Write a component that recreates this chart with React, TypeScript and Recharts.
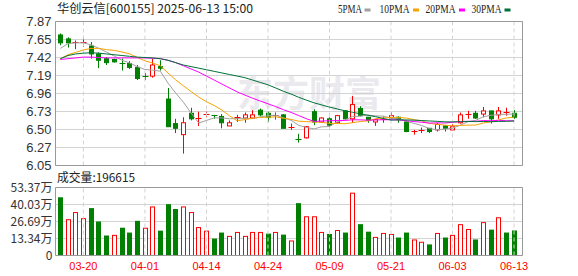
import {
  ComposedChart,
  Bar,
  Line,
  XAxis,
  YAxis,
  CartesianGrid,
  ReferenceLine,
} from "recharts";

const dates = [
  "03-17", "03-18", "03-19", "03-20", "03-21", "03-24", "03-25", "03-26", "03-27", "03-28", "03-31",
  "04-01", "04-02", "04-03", "04-07", "04-08", "04-09", "04-10", "04-11", "04-14", "04-15", "04-16",
  "04-17", "04-18", "04-21", "04-22", "04-23", "04-24", "04-25", "04-28", "04-29", "04-30",
  "05-06", "05-07", "05-08", "05-09", "05-12", "05-13", "05-14", "05-15", "05-16", "05-19", "05-20",
  "05-21", "05-22", "05-23", "05-26", "05-27", "05-28", "05-29", "05-30",
  "06-03", "06-04", "06-05", "06-06", "06-09", "06-10", "06-11", "06-12", "06-13",
];

const opens = [
  7.70, 7.65, 7.60, 7.60, 7.56, 7.46, 7.40, 7.39, 7.35, 7.34,
  7.29, 7.18, 7.18, 7.30, 6.89, 6.58, 6.44, 6.71, 6.64, 6.69,
  6.69, 6.67, 6.55, 6.65, 6.65, 6.65, 6.75, 6.71, 6.68, 6.69,
  6.53, 6.38, 6.40, 6.73, 6.60, 6.64, 6.59, 6.74, 6.64, 6.77,
  6.66, 6.60, 6.63, 6.65, 6.66, 6.60, 6.48, 6.49, 6.52, 6.50,
  6.55, 6.50, 6.59, 6.69, 6.71, 6.70, 6.74, 6.69, 6.71, 6.71,
];
const highs = [
  7.72, 7.67, 7.63, 7.67, 7.61, 7.48, 7.42, 7.40, 7.40, 7.37,
  7.32, 7.22, 7.40, 7.38, 7.03, 6.64, 6.66, 6.78, 6.73, 6.73,
  6.69, 6.70, 6.62, 6.69, 6.72, 6.75, 6.77, 6.73, 6.72, 6.70,
  6.58, 6.45, 6.55, 6.76, 6.66, 6.66, 6.69, 6.75, 6.93, 6.80,
  6.66, 6.64, 6.67, 6.72, 6.67, 6.62, 6.50, 6.53, 6.52, 6.59,
  6.56, 6.57, 6.72, 6.74, 6.74, 6.79, 6.74, 6.79, 6.78, 6.75,
];
const lows = [
  7.57, 7.54, 7.52, 7.55, 7.40, 7.28, 7.32, 7.35, 7.25, 7.27,
  7.13, 7.13, 7.16, 7.25, 6.54, 6.46, 6.20, 6.62, 6.55, 6.66,
  6.64, 6.52, 6.55, 6.60, 6.59, 6.64, 6.67, 6.60, 6.63, 6.52,
  6.50, 6.34, 6.39, 6.56, 6.59, 6.54, 6.58, 6.63, 6.59, 6.67,
  6.59, 6.55, 6.59, 6.64, 6.59, 6.47, 6.44, 6.46, 6.46, 6.48,
  6.48, 6.49, 6.58, 6.64, 6.64, 6.66, 6.58, 6.64, 6.68, 6.64,
];
const closes = [
  7.60, 7.60, 7.61, 7.61, 7.46, 7.38, 7.35, 7.36, 7.34, 7.29,
  7.15, 7.17, 7.32, 7.28, 6.54, 6.52, 6.59, 6.64, 6.65, 6.70,
  6.68, 6.59, 6.59, 6.66, 6.69, 6.69, 6.69, 6.66, 6.69, 6.52,
  6.54, 6.37, 6.54, 6.60, 6.65, 6.56, 6.68, 6.64, 6.82, 6.68,
  6.62, 6.63, 6.64, 6.68, 6.63, 6.48, 6.48, 6.50, 6.48, 6.57,
  6.52, 6.54, 6.69, 6.70, 6.65, 6.74, 6.64, 6.74, 6.72, 6.66,
];
const volumes = [
  457000, 285000, 341000, 293000, 372000, 267000, 157000, 162000, 218000, 180000,
  272000, 218000, 385000, 195000, 403000, 365000, 385000, 341000, 223000, 195000,
  133000, 180000, 154000, 185000, 154000, 185000, 185000, 172000, 185000, 164000,
  118000, 411000, 308000, 308000, 185000, 169000, 200000, 180000, 493000, 246000,
  187000, 146000, 177000, 169000, 141000, 180000, 126000, 108000, 87000, 177000,
  141000, 162000, 246000, 208000, 126000, 262000, 203000, 300000, 180000, 196615,
];

const ma5 = [
  7.53, 7.59, 7.60, 7.60, 7.575, 7.532, 7.483, 7.434, 7.381, 7.346,
  7.30, 7.263, 7.256, 7.242, 7.092, 6.966, 6.85, 6.714, 6.587, 6.619,
  6.652, 6.652, 6.641, 6.643, 6.641, 6.643, 6.664, 6.679, 6.686, 6.653,
  6.622, 6.557, 6.531, 6.513, 6.539, 6.542, 6.604, 6.626, 6.669, 6.674,
  6.687, 6.677, 6.675, 6.648, 6.639, 6.611, 6.582, 6.555, 6.516, 6.503,
  6.51, 6.521, 6.559, 6.603, 6.62, 6.665, 6.685, 6.695, 6.698, 6.70,
];
const ma10 = [
  7.40, 7.45, 7.48, 7.51, 7.53, 7.53, 7.515, 7.505, 7.485, 7.461,
  7.416, 7.373, 7.345, 7.311, 7.219, 7.133, 7.057, 6.985, 6.915, 6.856,
  6.809, 6.751, 6.678, 6.615, 6.63, 6.648, 6.658, 6.66, 6.665, 6.647,
  6.633, 6.61, 6.605, 6.60, 6.596, 6.582, 6.581, 6.578, 6.591, 6.606,
  6.614, 6.641, 6.651, 6.658, 6.657, 6.649, 6.629, 6.615, 6.582, 6.571,
  6.56, 6.552, 6.557, 6.56, 6.561, 6.587, 6.603, 6.627, 6.651, 6.66,
];
const ma20 = [
  7.39, 7.40, 7.41, 7.42, 7.42, 7.415, 7.41, 7.41, 7.41, 7.41,
  7.41, 7.41, 7.405, 7.40, 7.38, 7.35, 7.31, 7.27, 7.23, 7.18,
  7.13, 7.08, 7.03, 6.98, 6.94, 6.90, 6.865, 6.83, 6.795, 6.755,
  6.721, 6.681, 6.641, 6.607, 6.613, 6.615, 6.619, 6.619, 6.628, 6.627,
  6.623, 6.626, 6.628, 6.629, 6.626, 6.616, 6.605, 6.597, 6.586, 6.589,
  6.587, 6.596, 6.604, 6.609, 6.609, 6.618, 6.616, 6.621, 6.616, 6.615,
];
const ma30 = [
  7.40, 7.44, 7.46, 7.47, 7.475, 7.47, 7.46, 7.45, 7.44, 7.43,
  7.42, 7.415, 7.41, 7.40, 7.38, 7.35, 7.32, 7.30, 7.28, 7.26,
  7.24, 7.22, 7.20, 7.18, 7.16, 7.13, 7.10, 7.07, 7.03, 6.988,
  6.953, 6.912, 6.876, 6.842, 6.815, 6.788, 6.765, 6.741, 6.723, 6.703,
  6.685, 6.667, 6.644, 6.624, 6.627, 6.626, 6.623, 6.618, 6.613, 6.608,
  6.602, 6.601, 6.604, 6.606, 6.605, 6.606, 6.604, 6.607, 6.608, 6.612,
];

const priceTicks = [6.05, 6.2775, 6.505, 6.7325, 6.96, 7.1875, 7.415, 7.6425, 7.87];
const priceTickLabels = ["6.05", "6.27", "6.50", "6.73", "6.96", "7.19", "7.42", "7.65", "7.87"];
const volTicks = [0, 133425, 266850, 400275, 533700];
const volTickLabels = ["0", "13.34万", "26.69万", "40.03万", "53.37万"];
const axisDates = ["03-20", "04-01", "04-14", "04-24", "05-09", "05-21", "06-03", "06-13"];

const RED = "#ff0000";
const GREEN = "#008000";
const FRAME = "#999999";
const GRID = "#d3d3d3";
const FONT = "'Liberation Sans', Arial, sans-serif";
const CJK = "'Noto Sans CJK SC', 'Liberation Sans', sans-serif";

const rows = dates.map((date, i) => ({
  date,
  open: opens[i],
  high: highs[i],
  low: lows[i],
  close: closes[i],
  range: [lows[i], highs[i]],
  volume: volumes[i],
  volUp: closes[i] >= (i > 0 ? closes[i - 1] : opens[i]),
  ma5: ma5[i],
  ma10: ma10[i],
  ma20: ma20[i],
  ma30: ma30[i],
}));

// wick + body, body positions mapped inside the low..high range the bar was given
function Candle(props: any) {
  const { x, y, width, height, payload } = props;
  if (!payload) return null;
  const { open, close, high, low } = payload;
  const cx = Math.round(x + width / 2) + 0.5;
  const k = high > low ? height / (high - low) : 0;
  const py = (p: number) => y + (high - p) * k;
  const up = close >= open;
  const color = up ? RED : GREEN;
  const top = py(Math.max(open, close));
  const bot = py(Math.min(open, close));
  const flat = bot - top < 1.5;
  return (
    <g>
      <line x1={cx} x2={cx} y1={y} y2={y + height} stroke={color} strokeWidth={1} />
      {flat ? (
        <line x1={cx - 3} x2={cx + 3} y1={Math.round(top) + 0.5} y2={Math.round(top) + 0.5} stroke={color} strokeWidth={1} />
      ) : (
        <rect x={cx - 2} y={top} width={4} height={bot - top} fill={up ? "#ffffff" : color} stroke={color} strokeWidth={1} />
      )}
    </g>
  );
}

function VolBar(props: any) {
  const { x, y, width, height, payload } = props;
  if (!payload || height <= 0) return null;
  const cx = Math.round(x + width / 2) + 0.5;
  if (payload.volUp) {
    return <rect x={cx - 2} y={y + 0.5} width={4} height={height - 0.5} fill="#ffffff" stroke={RED} strokeWidth={1} />;
  }
  return <rect x={cx - 2.5} y={y} width={5} height={height} fill={GREEN} />;
}

const legend = [
  { label: "5PMA", x: 338, w: 24, sx: 364.5, color: "#a0a0a0" },
  { label: "10PMA", x: 379.5, w: 30, sx: 413, color: "#f5a300" },
  { label: "20PMA", x: 425.5, w: 30, sx: 459, color: "#ff00ff" },
  { label: "30PMA", x: 471.5, w: 30, sx: 504.5, color: "#00703a" },
];

const xPad = { left: 1, right: 4.6 };

export default function App() {
  return (
    <div style={{ position: "absolute", left: 0, top: 0, width: 578, height: 276, background: "#fff" }}>
      <svg width={578} height={276} style={{ position: "absolute", left: 0, top: 0 }}>
        <text x={237} y={107} fontSize={36} fontWeight="bold" fill="#e9e9ee" fontFamily={CJK}>
          东方财富
        </text>
      </svg>

      <div style={{ position: "absolute", left: 0, top: 0 }}>
        <ComposedChart width={578} height={178} data={rows} margin={{ top: 21.5, right: 54.5, bottom: 12.5, left: 0 }}>
          <CartesianGrid horizontal vertical={false} stroke={GRID} />
          <XAxis dataKey="date" hide padding={xPad} />
          <YAxis
            domain={[6.05, 7.87]}
            ticks={priceTicks}
            interval={0}
            width={55.5}
            tickSize={0}
            tickMargin={4}
            axisLine={{ stroke: FRAME }}
            tick={{ fontSize: 13, fill: "#333", fontFamily: FONT }}
            tickFormatter={(v: number) => priceTickLabels[priceTicks.indexOf(v)]}
            allowDataOverflow
          />
          <YAxis yAxisId="r" orientation="right" width={1} domain={[6.05, 7.87]} tick={false} tickLine={false} axisLine={{ stroke: FRAME }} />
          {axisDates.map((d) => (
            <ReferenceLine key={d} x={d} stroke={GRID} strokeDasharray="4 3" />
          ))}
          <ReferenceLine y={7.87} stroke={FRAME} />
          <ReferenceLine y={6.05} stroke={FRAME} />
          <Bar dataKey="range" barSize={5} shape={<Candle />} isAnimationActive={false} />
          <Line type="linear" dataKey="ma5" stroke="#a0a0a0" strokeWidth={1} dot={false} isAnimationActive={false} />
          <Line type="linear" dataKey="ma10" stroke="#f5a300" strokeWidth={1} dot={false} isAnimationActive={false} />
          <Line type="linear" dataKey="ma20" stroke="#ff00ff" strokeWidth={1} dot={false} isAnimationActive={false} />
          <Line type="linear" dataKey="ma30" stroke="#00703a" strokeWidth={1} dot={false} isAnimationActive={false} />
        </ComposedChart>
      </div>

      <div style={{ position: "absolute", left: 0, top: 170 }}>
        <ComposedChart width={578} height={106} data={rows} margin={{ top: 17.5, right: 54.5, bottom: 0, left: 0 }}>
          <CartesianGrid horizontal vertical={false} stroke={GRID} />
          <XAxis
            dataKey="date"
            ticks={axisDates}
            interval={0}
            padding={xPad}
            height={20.5}
            tickLine={false}
            axisLine={{ stroke: FRAME }}
            tickMargin={1}
            tick={{ fontSize: 11, fill: RED, fontFamily: FONT }}
          />
          <YAxis
            domain={[0, 533700]}
            ticks={volTicks}
            interval={0}
            width={55.5}
            tickSize={0}
            tickMargin={3}
            axisLine={{ stroke: FRAME }}
            tick={{ fontSize: 12, fill: "#333", fontFamily: CJK }}
            tickFormatter={(v: number) => volTickLabels[volTicks.indexOf(v)]}
          />
          <YAxis yAxisId="r" orientation="right" width={1} domain={[0, 533700]} tick={false} tickLine={false} axisLine={{ stroke: FRAME }} />
          {axisDates.map((d) => (
            <ReferenceLine key={d} x={d} stroke={GRID} strokeDasharray="4 3" />
          ))}
          <ReferenceLine y={533700} stroke={FRAME} />
          <Bar dataKey="volume" barSize={5} shape={<VolBar />} isAnimationActive={false} />
        </ComposedChart>
      </div>

      <svg width={578} height={276} style={{ position: "absolute", left: 0, top: 0, pointerEvents: "none" }}>
        <text x={57} y={13} fontSize={12} fill="#222" fontFamily={CJK} textLength={196} lengthAdjust="spacingAndGlyphs">
          华创云信[600155] 2025-06-13 15:00
        </text>
        {legend.map((l) => (
          <g key={l.label}>
            <text x={l.x} y={13} fontSize={12} fill="#222" fontFamily="'Liberation Serif', serif" textLength={l.w} lengthAdjust="spacingAndGlyphs">
              {l.label}
            </text>
            <rect x={l.sx} y={8.5} width={6} height={3} fill={l.color} />
          </g>
        ))}
        <text x={57} y={182} fontSize={12} fill="#222" fontFamily={CJK} textLength={78} lengthAdjust="spacingAndGlyphs">
          成交量:196615
        </text>
      </svg>
    </div>
  );
}
